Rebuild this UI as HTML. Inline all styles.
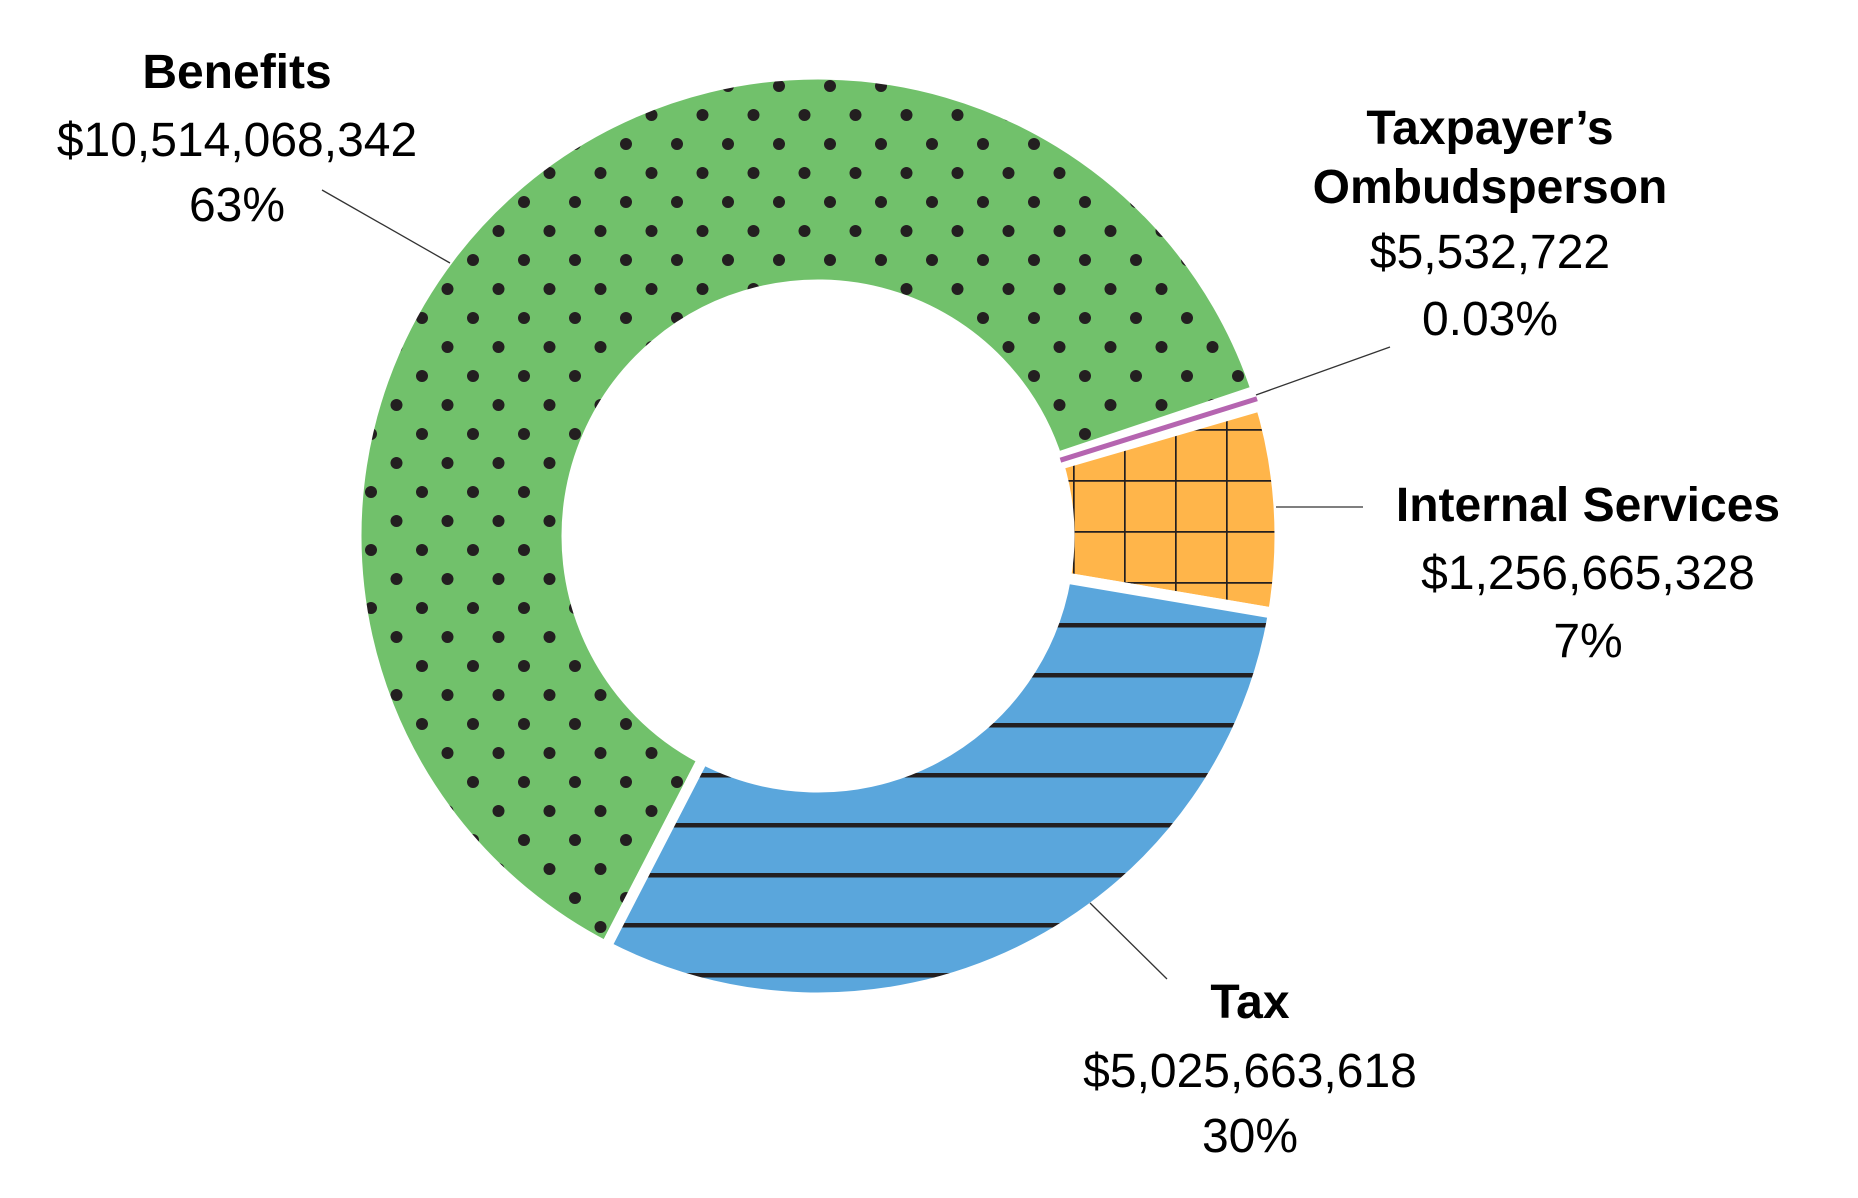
<!DOCTYPE html>
<html><head><meta charset="utf-8"><style>
html,body{margin:0;padding:0;background:#fff;}
svg{display:block;}
text{font-family:"Liberation Sans",Arial,sans-serif;fill:#000;}
</style></head><body>
<svg id="chart" width="1858" height="1198" viewBox="0 0 1858 1198">
<defs>
<pattern id="dots" patternUnits="userSpaceOnUse" width="51" height="58" x="818" y="536">
<circle cx="12" cy="14" r="6" fill="#231f20"/><circle cx="37.5" cy="43" r="6" fill="#231f20"/>
</pattern>
<pattern id="grid" patternUnits="userSpaceOnUse" width="51" height="51" x="818" y="480">
<path d="M0 0.8H51M0.8 0V51" stroke="#231f20" stroke-width="1.8" fill="none"/>
</pattern>
<pattern id="hlines" patternUnits="userSpaceOnUse" width="60" height="50" x="0" y="23">
<rect x="0" y="0" width="60" height="4.5" fill="#231f20"/>
</pattern>
</defs>
<g id="slices"></g>
<g id="labels"></g>
</svg>
<script>
const categories = ["Benefits", "Taxpayer\u2019s Ombudsperson", "Internal Services", "Tax"];
const amounts = [10514068342, 5532722, 1256665328, 5025663618];
const amountLabels = ["$10,514,068,342", "$5,532,722", "$1,256,665,328", "$5,025,663,618"];
const pctLabels = ["63%", "0.03%", "7%", "30%"];

const NS = "http://www.w3.org/2000/svg";
const cx = 818, cy = 536, R = 462, r = 251, startDeg = 207.3;
const fills = ["#71c16b", "#b565b0", "#ffb54a", "#5aa6dc"];
const overlays = ["url(#dots)", null, "url(#grid)", "url(#hlines)"];
const total = amounts.reduce((a, b) => a + b, 0);
function pt(deg, rad) { const a = deg * Math.PI / 180; return [cx + rad * Math.sin(a), cy - rad * Math.cos(a)]; }
function arcPath(a0, a1) {
  const p0 = pt(a0, R), p1 = pt(a1, R), p2 = pt(a1, r), p3 = pt(a0, r);
  const large = (a1 - a0) > 180 ? 1 : 0;
  return `M${p0[0]} ${p0[1]}A${R} ${R} 0 ${large} 1 ${p1[0]} ${p1[1]}L${p2[0]} ${p2[1]}A${r} ${r} 0 ${large} 0 ${p3[0]} ${p3[1]}Z`;
}
const gS = document.getElementById("slices");
let ang = startDeg;
const mids = [];
const tiny = [];
amounts.forEach((v, i) => {
  const span = v / total * 360;
  const a0 = ang, a1 = ang + span;
  mids.push((a0 + a1) / 2);
  if (span < 2) {
    tiny.push(i);
  } else {
    const g = document.createElementNS(NS, "g");
    
    
    const base = document.createElementNS(NS, "path");
    base.setAttribute("d", arcPath(a0, a1)); base.setAttribute("fill", fills[i]);
    g.appendChild(base);
    const ov = document.createElementNS(NS, "path");
    ov.setAttribute("d", arcPath(a0, a1)); ov.setAttribute("fill", overlays[i]);
    ov.setAttribute("stroke", "#fff"); ov.setAttribute("stroke-width", "11");
    g.appendChild(ov);
    gS.appendChild(g);
  }
  ang = a1;
});
tiny.forEach(i => {
  const m = mids[i];
  [m - 1.15, m + 1.15].forEach(a => {
    const p = pt(a, r - 5), q = pt(a, R + 5);
    const ln = document.createElementNS(NS, "line");
    ln.setAttribute("x1", p[0]); ln.setAttribute("y1", p[1]); ln.setAttribute("x2", q[0]); ln.setAttribute("y2", q[1]);
    ln.setAttribute("stroke", "#fff"); ln.setAttribute("stroke-width", "8");
    
    
    gS.appendChild(ln);
  });
  const p = pt(m, r + 3), q = pt(m, R - 2);
  const ln = document.createElementNS(NS, "line");
  ln.setAttribute("x1", p[0]); ln.setAttribute("y1", p[1]); ln.setAttribute("x2", q[0]); ln.setAttribute("y2", q[1]);
  ln.setAttribute("stroke", fills[i]); ln.setAttribute("stroke-width", "5");
  
  
  gS.appendChild(ln);
});

const labelPos = [[237, [71, 139, 204]], [1490, [127, 186, 251, 318]], [1588, [504, 572, 640]], [1250, [1001, 1070, 1135]]];
const leaders = [[[322,190],[450,263]], [[1390,347],[1256,395]], [[1276,507],[1363,507]], [[1090,903],[1167,979]]];
const gL = document.getElementById("labels");
categories.forEach((c, i) => {
  const g = document.createElementNS(NS, "g");
  
  
  const x = labelPos[i][0], ys = labelPos[i][1];
  const lines = i === 1 ? ["Taxpayer\u2019s", "Ombudsperson"] : [c];
  const all = lines.map(t => [t, true]).concat([[amountLabels[i], false], [pctLabels[i], false]]);
  all.forEach((l, k) => {
    const t = document.createElementNS(NS, "text");
    t.setAttribute("x", x); t.setAttribute("y", ys[k] + 17);
    t.setAttribute("text-anchor", "middle"); t.setAttribute("font-size", "48");
    if (l[1]) t.setAttribute("font-weight", "bold");
    t.textContent = l[0];
    g.appendChild(t);
  });
  const ld = leaders[i], ln = document.createElementNS(NS, "line");
  ln.setAttribute("x1", ld[0][0]); ln.setAttribute("y1", ld[0][1]); ln.setAttribute("x2", ld[1][0]); ln.setAttribute("y2", ld[1][1]);
  ln.setAttribute("stroke", "#333"); ln.setAttribute("stroke-width", "1.3");
  
  
  g.appendChild(ln);
  gL.appendChild(g);
});
</script>
</body></html>
